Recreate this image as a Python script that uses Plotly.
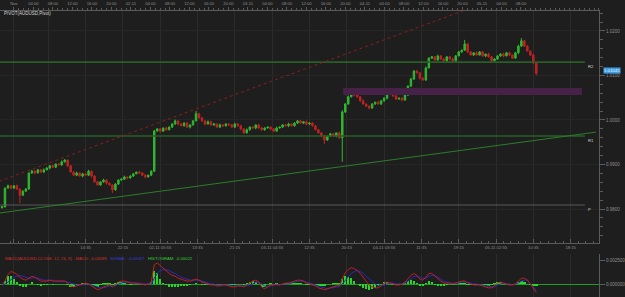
import numpy as np
import plotly.graph_objects as go

# ---------------- data ----------------
closes = [
    0.9805, 0.9847, 0.9852, 0.9847, 0.9852, 0.9845, 0.9831, 0.9840, 0.9845, 0.9881,
    0.9885, 0.9881, 0.9888, 0.9883, 0.9888, 0.9892, 0.9897, 0.9894, 0.9901, 0.9899,
    0.9906, 0.9910, 0.9897, 0.9883, 0.9876, 0.9881, 0.9874, 0.9879, 0.9876, 0.9885,
    0.9874, 0.9861, 0.9854, 0.9861, 0.9865, 0.9858, 0.9854, 0.9843, 0.9856, 0.9865,
    0.9867, 0.9872, 0.9870, 0.9874, 0.9879, 0.9883, 0.9881, 0.9876, 0.9872, 0.9876,
    0.9885, 0.9975, 0.9980, 0.9975, 0.9982, 0.9978, 0.9984, 0.9991, 0.9998, 0.9991,
    0.9987, 0.9993, 0.9984, 0.9989, 0.9998, 1.0014, 1.0005, 0.9998, 0.9991, 0.9996,
    0.9989, 0.9991, 0.9984, 0.9989, 0.9987, 0.9991, 0.9989, 0.9984, 0.9991, 0.9987,
    0.9980, 0.9971, 0.9978, 0.9984, 0.9982, 0.9989, 0.9982, 0.9978, 0.9982, 0.9984,
    0.9980, 0.9975, 0.9982, 0.9984, 0.9989, 0.9987, 0.9991, 0.9987, 0.9993, 0.9998,
    0.9993, 0.9996, 0.9991, 0.9993, 0.9987, 0.9978, 0.9971, 0.9964, 0.9955, 0.9964,
    0.9969, 0.9964, 0.9971, 0.9960, 1.0018, 1.0036, 1.0052, 1.0058, 1.0056, 1.0052,
    1.0043, 1.0036, 1.0031, 1.0027, 1.0036, 1.0040, 1.0036, 1.0043, 1.0049, 1.0058,
    1.0061, 1.0054, 1.0047, 1.0049, 1.0045, 1.0056, 1.0076, 1.0092, 1.0110, 1.0106,
    1.0094, 1.0090, 1.0117, 1.0139, 1.0142, 1.0135, 1.0144, 1.0137, 1.0133, 1.0142,
    1.0137, 1.0133, 1.0144, 1.0153, 1.0157, 1.0171, 1.0153, 1.0146, 1.0151, 1.0146,
    1.0153, 1.0144, 1.0148, 1.0142, 1.0133, 1.0137, 1.0144, 1.0148, 1.0144, 1.0151,
    1.0146, 1.0139, 1.0151, 1.0166, 1.0178, 1.0166, 1.0155, 1.0146, 1.0128, 1.01045,
]
first_open = 0.9803

up_wick_pips = [
    2, 1, 3, 2, 2, 3, 1, 2, 2, 1, 3, 2, 2, 1, 3, 2, 2, 3, 1, 2,
    3, 2, 1, 2, 2, 3, 1, 2, 2, 3, 1, 2, 2, 1, 3, 2, 2, 1, 2, 2,
    2, 3, 1, 2, 2, 1, 3, 2, 2, 1, 2, 3, 2, 2, 1, 3, 2, 2, 3, 1,
    2, 2, 3, 1, 2, 6, 2, 1, 2, 3, 2, 2, 1, 3, 2, 2, 1, 2, 3, 2,
    2, 1, 3, 2, 2, 1, 2, 3, 2, 1, 2, 2, 3, 1, 2, 2, 3, 1, 2, 2,
    2, 1, 3, 2, 2, 1, 2, 2, 3, 1, 2, 2, 1, 3, 4, 2, 3, 2, 2, 1,
    2, 3, 1, 2, 2, 1, 3, 2, 2, 1, 3, 2, 2, 1, 2, 3, 2, 3, 2, 2,
    1, 2, 3, 2, 2, 1, 3, 2, 2, 1, 2, 3, 2, 2, 1, 9, 2, 2, 1, 3,
    2, 2, 1, 3, 2, 2, 1, 2, 3, 2, 2, 1, 2, 3, 6, 2, 2, 1, 3, 2,
]
dn_wick_pips = [
    2, 2, 1, 3, 2, 2, 18, 2, 1, 2, 2, 3, 1, 2, 2, 1, 3, 2, 2, 1,
    2, 2, 3, 1, 2, 2, 1, 3, 2, 2, 3, 2, 1, 2, 2, 3, 1, 7, 2, 2,
    1, 2, 3, 2, 2, 1, 2, 2, 3, 1, 2, 2, 1, 3, 2, 2, 1, 2, 2, 3,
    1, 2, 2, 3, 2, 1, 2, 2, 3, 1, 2, 2, 1, 2, 3, 2, 2, 1, 2, 2,
    3, 2, 1, 2, 2, 3, 1, 2, 2, 1, 3, 2, 2, 1, 2, 2, 3, 1, 2, 2,
    1, 2, 3, 2, 2, 1, 2, 3, 9, 2, 2, 1, 3, 2, 54, 2, 2, 1, 3, 2,
    2, 1, 2, 3, 2, 2, 1, 2, 2, 3, 1, 2, 2, 1, 3, 2, 2, 1, 2, 2,
    3, 2, 2, 1, 2, 3, 2, 2, 1, 2, 3, 2, 2, 1, 2, 2, 3, 1, 2, 2,
    1, 2, 3, 2, 2, 1, 2, 2, 3, 1, 2, 2, 1, 3, 2, 2, 1, 2, 3, 4,
]

# MACD panel values, in units of 1e-4
macd_e4 = [
    -1, 3, 10, 13, 12, 10, 7, 5, 4, 6,
    8, 7, 5, 3, 3, 3, 4, 3, 3, 3,
    3, 3, 1, -2, -3, -2, -1, 0, 1, 0,
    -2, -4, -6, -5, -3, -2, -1, -3, -1, 2,
    3, 3, 2, 1, 1, 1, 0, 0, -1, 0,
    2, 20, 22, 19, 16, 14, 11, 9, 8, 6,
    5, 4, 3, 3, 4, 5, 4, 2, 1, 0,
    -1, -1, -2, -2, -1, -1, -2, -3, -3, -2,
    -2, -3, -1, 1, 3, 4, 2, -3, -5, -3,
    -1, -1, 0, -1, 0, 1, 1, 2, 3, 4,
    4, 3, 1, 0, -1, -2, -4, -5, -6, -5,
    -4, -3, -2, -2, 5, 12, 15, 17, 16, 14,
    11, 7, 3, -1, -3, -4, -4, -2, 1, 2,
    1, 0, -1, -1, 0, 2, 6, 9, 11, 9,
    5, 4, 7, 11, 11, 8, 5, 3, 1, 1,
    1, 0, 1, 2, 3, 3, 1, 0, -1, -1,
    -1, -2, -3, -4, -4, -2, 1, 2, 1, 0,
    -1, -1, 0, 3, 6, 6, 4, 0, -5, -8.9,
]
signal_e4 = [
    -1, 0, 2, 5, 7, 8, 9, 8, 7, 6,
    6, 7, 6, 5, 4, 4, 4, 4, 3, 3,
    3, 3, 2, 1, 0, -1, -1, -1, 0, 0,
    -1, -2, -3, -4, -4, -3, -2, -2, -2, 0,
    1, 2, 2, 2, 1, 1, 1, 0, 0, 0,
    0, 6, 11, 14, 15, 15, 14, 12, 11, 9,
    7, 6, 5, 4, 4, 4, 4, 3, 2, 1,
    0, 0, -1, -1, -1, -1, -1, -2, -2, -2,
    -2, -2, -2, -1, 0, 2, 2, 0, -2, -3,
    -2, -1, -1, -1, 0, 0, 0, 1, 2, 3,
    3, 3, 2, 1, 0, -1, -2, -3, -4, -5,
    -4, -4, -3, -3, 0, 4, 8, 11, 13, 14,
    13, 11, 8, 5, 2, 0, -2, -2, -1, 0,
    1, 1, 0, 0, 0, 1, 3, 5, 8, 8,
    7, 6, 6, 8, 9, 9, 7, 5, 3, 2,
    1, 1, 1, 1, 2, 2, 2, 1, 0, 0,
    -1, -1, -2, -2, -3, -3, -1, 0, 1, 0,
    0, -1, 0, 1, 3, 4, 4, 1, -3, -6.7,
]
hist_e4 = [
    0, 3, 8, 8, 5, 2, -2, -3, -3, 0,
    2, 0, -1, -2, -1, -1, 0, -1, 0, 0,
    0, 0, -1, -3, -3, -1, 0, 1, 1, 0,
    -1, -2, -3, -1, 1, 1, 1, -1, 1, 2,
    2, 1, 0, -1, 0, 0, 0, 0, -1, 0,
    2, 14, 11, 5, 1, -1, -3, -3, -3, -3,
    -2, -2, -2, -1, 0, 1, 0, -1, -1, -1,
    -1, -1, -1, -1, 0, 0, -1, -1, -1, 0,
    0, -1, 1, 2, 3, 2, 0, -3, -3, 0,
    1, 0, 1, 0, 0, 1, 1, 1, 1, 1,
    1, 0, -1, -1, -1, -1, -2, -2, -2, 0,
    0, 1, 1, 1, 5, 8, 7, 6, 3, 0,
    -2, -4, -5, -6, -5, -4, -2, 0, 2, 2,
    0, -1, -1, -1, 0, 1, 3, 4, 3, 1,
    -2, -2, 1, 3, 2, -1, -2, -2, -2, -1,
    0, -1, 0, 1, 1, 1, -1, -1, -1, -1,
    0, -1, -1, -2, -1, 1, 2, 2, 0, 0,
    -1, 0, 0, 2, 3, 2, 0, -1, -2, -2.2,
]

pivot_names = ["R2", "R1", "P"]
pivot_levels = [1.0130, 0.9964, 0.9809]
pivot_colors = ["#275f27", "#275f27", "#595959"]
pivot_bars = [-0.7, 195.3]

zone_bars = [114.3, 194.3]
zone_prices = [1.0056, 1.0072]

red_trend_bars = [-1, 199]
red_trend_prices = [0.98621, 1.0355]
green_trend_bars = [-1, 199]
green_trend_prices = [0.97908, 0.99728]

price_ticks = [0.98, 0.99, 1.00, 1.01, 1.02]
price_tick_text = ["0.9800", "0.9900", "1.0000", "1.0100", "1.0200"]
macd_ticks = [0.0, 0.0025]
macd_tick_text = ["0.000000", "0.002500"]

bottom_tick_pos = [4, 15.5, 28, 40.5, 53, 65.5, 78, 90.5, 103, 115.5,
                   128, 140.5, 153, 165.5, 178, 190.5]
bottom_tick_text = ["29-10-2020 21:00", "", "14:35", "22:15", "02-11 05:55", "13:35",
                    "21:15", "03-11 04:55", "12:35", "20:15", "04-11 03:55", "11:35",
                    "19:15", "05-11 02:55", "10:35", "18:15"]
top_tick_text = ["Nov", "04:00", "08:00", "12:00", "16:00", "20:00",
                 "02-11", "04:00", "08:00", "12:00", "16:00", "20:00",
                 "03-11", "04:00", "08:00", "12:00", "16:00", "20:00",
                 "04-11", "04:00", "08:00", "12:00", "16:00", "20:00",
                 "05-11", "04:00", "08:00"]
last_price_text = "1.01045"
title_text = "PIVOT(AUDUSD,Pivot)"
macd_legend = ("MACD(AUDUSD,CLOSE, 12, 26, 9) - MACD: -0.00089", "SIGNAL: -0.00067", "HISTOGRAM: -0.00022")

# ---------------- derived ----------------
n = len(closes)
bars = list(range(n))
opens = [first_open] + closes[:-1]
highs = [max(o, c) + w / 10000 for o, c, w in zip(opens, closes, up_wick_pips)]
lows = [min(o, c) - w / 10000 for o, c, w in zip(opens, closes, dn_wick_pips)]
macd = [v * 1e-4 for v in macd_e4]
signal = [v * 1e-4 for v in signal_e4]
hist = [v * 1e-4 for v in hist_e4]

top_tick_pos = [4 + 6.533 * k for k in range(len(top_tick_text))]

BG = "#1e1e1e"
TXT = "#8e8e8e"
AX = "#5a5a5a"
GRID = "#2b2b2b"
FONT = "Liberation Sans"

fig = go.Figure()

# purple zone
fig.add_trace(go.Scatter(
    x=[zone_bars[0], zone_bars[1], zone_bars[1], zone_bars[0], zone_bars[0]],
    y=[zone_prices[0], zone_prices[0], zone_prices[1], zone_prices[1], zone_prices[0]],
    fill="toself", fillcolor="#462248", line=dict(width=0), mode="lines",
    hoverinfo="skip", xaxis="x", yaxis="y"))

# pivot lines
for name, lvl, col in zip(pivot_names, pivot_levels, pivot_colors):
    fig.add_trace(go.Scatter(x=pivot_bars, y=[lvl, lvl], mode="lines",
                             line=dict(color=col, width=1.6 if name != "P" else 1.2),
                             hoverinfo="skip", xaxis="x", yaxis="y"))

# trend lines
fig.add_trace(go.Scatter(x=red_trend_bars, y=red_trend_prices, mode="lines",
                         line=dict(color="#8a1e1e", width=1, dash="dot"),
                         hoverinfo="skip", xaxis="x", yaxis="y"))
fig.add_trace(go.Scatter(x=green_trend_bars, y=green_trend_prices, mode="lines",
                         line=dict(color="#2a7e2a", width=1),
                         hoverinfo="skip", xaxis="x", yaxis="y"))

# candles
fig.add_trace(go.Candlestick(
    x=bars, open=opens, high=highs, low=lows, close=closes,
    increasing=dict(line=dict(color="#2fb82f", width=1), fillcolor="#2fb82f"),
    decreasing=dict(line=dict(color="#c22222", width=1), fillcolor="#c22222"),
    whiskerwidth=0, xaxis="x", yaxis="y", hoverinfo="skip"))

# invisible trace for the top axis
fig.add_trace(go.Scatter(x=[bars[0]], y=[closes[0]], mode="markers",
                         marker=dict(opacity=0), xaxis="x2", yaxis="y", hoverinfo="skip"))

# MACD panel
fig.add_trace(go.Bar(x=bars, y=hist, marker=dict(color="#27d827", line=dict(width=0)),
                     width=0.8, xaxis="x3", yaxis="y2", hoverinfo="skip"))
fig.add_trace(go.Scatter(x=bars, y=signal, mode="lines", line=dict(color="#2a2ac0", width=1),
                         xaxis="x3", yaxis="y2", hoverinfo="skip"))
fig.add_trace(go.Scatter(x=bars, y=macd, mode="lines", line=dict(color="#c02020", width=1),
                         xaxis="x3", yaxis="y2", hoverinfo="skip"))

H = 297
main_dom = [(H - 243) / H, (H - 11) / H]
ind_dom = [0, (H - 254) / H]
xr = [-2 / 3, 200]

fig.update_layout(
    width=625, height=297, autosize=False,
    margin=dict(l=0, r=23, t=0, b=0),
    paper_bgcolor=BG, plot_bgcolor=BG,
    showlegend=False, bargap=0,
    font=dict(family=FONT, size=4.5, color=TXT),
    xaxis=dict(domain=[0, 1], anchor="y", range=xr, rangeslider=dict(visible=False),
               tickmode="array", tickvals=bottom_tick_pos, ticktext=bottom_tick_text,
               ticks="inside", ticklen=4, tickcolor=AX, showline=True, linecolor=AX,
               showgrid=True, gridcolor=GRID, gridwidth=1, zeroline=False,
               tickfont=dict(size=4.2, color=TXT, family=FONT),
               minor=dict(tickvals=list(np.arange(3, 200, 2.5)), ticks="inside",
                          ticklen=2, tickcolor=AX, showgrid=False)),
    xaxis2=dict(overlaying="x", anchor="y", side="top", range=xr, matches="x",
                tickmode="array", tickvals=top_tick_pos, ticktext=top_tick_text,
                ticks="outside", ticklen=3, tickcolor=AX, showline=True, linecolor=AX,
                showgrid=False, zeroline=False,
                tickfont=dict(size=4.2, color=TXT, family=FONT),
                minor=dict(tickvals=list(np.arange(4, 200, 6.533 / 4)), ticks="outside",
                           ticklen=2, tickcolor=AX, showgrid=False)),
    xaxis3=dict(domain=[0, 1], anchor="y2", range=xr, matches="x",
                tickmode="array", tickvals=bottom_tick_pos, showticklabels=False,
                ticks="", showgrid=True, gridcolor=GRID, zeroline=False, showline=False),
    yaxis=dict(domain=main_dom, anchor="x", side="right", range=[0.97236, 1.02449],
               tickmode="array", tickvals=price_ticks, ticktext=price_tick_text,
               ticks="outside", ticklen=5, tickcolor=AX, showline=True, linecolor=AX,
               showgrid=True, gridcolor="#262626", zeroline=False,
               tickfont=dict(size=4.5, color=TXT, family=FONT),
               minor=dict(dtick=0.002, ticks="outside", ticklen=3, tickcolor=AX, showgrid=False)),
    yaxis2=dict(domain=ind_dom, anchor="x3", side="right", range=[-0.001354, 0.003125],
                tickmode="array", tickvals=macd_ticks, ticktext=macd_tick_text,
                ticks="outside", ticklen=5, tickcolor=AX, showline=True, linecolor=AX,
                showgrid=False, zeroline=True, zerolinecolor="#1f9f1f", zerolinewidth=1,
                tickfont=dict(size=4.5, color=TXT, family=FONT)),
)

ann = []
ann.append(dict(text=title_text, xref="paper", yref="paper", x=0.004, y=(H - 13) / H,
                xanchor="left", yanchor="middle", showarrow=False,
                font=dict(size=4.5, color="#d8d8d8", family=FONT)))
ann.append(dict(
    text=("<span style='color:#d03030'>" + macd_legend[0] + "</span>   "
          "<span style='color:#3c3cd8'>" + macd_legend[1] + "</span>   "
          "<span style='color:#30d030'>" + macd_legend[2] + "</span>"),
    xref="paper", yref="paper", x=0.005, y=(H - 258) / H, xanchor="left", yanchor="middle",
    showarrow=False, font=dict(size=4.2, family=FONT)))
for name, lvl in zip(pivot_names, pivot_levels):
    ann.append(dict(text=name, x=pivot_bars[1] + 0.5, y=lvl, xref="x", yref="y",
                    xanchor="left", yanchor="top", showarrow=False,
                    font=dict(size=4.2, color="#cfcfcf", family=FONT)))
ann.append(dict(text=last_price_text, x=1, y=closes[-1], xref="paper", yref="y",
                xanchor="left", yanchor="middle", xshift=4, yshift=3, showarrow=False,
                bgcolor="#3c9de4", borderpad=0,
                font=dict(size=4.3, color="#eaf6ff", family=FONT)))
fig.update_layout(annotations=ann)

fig.write_html("out.html")
